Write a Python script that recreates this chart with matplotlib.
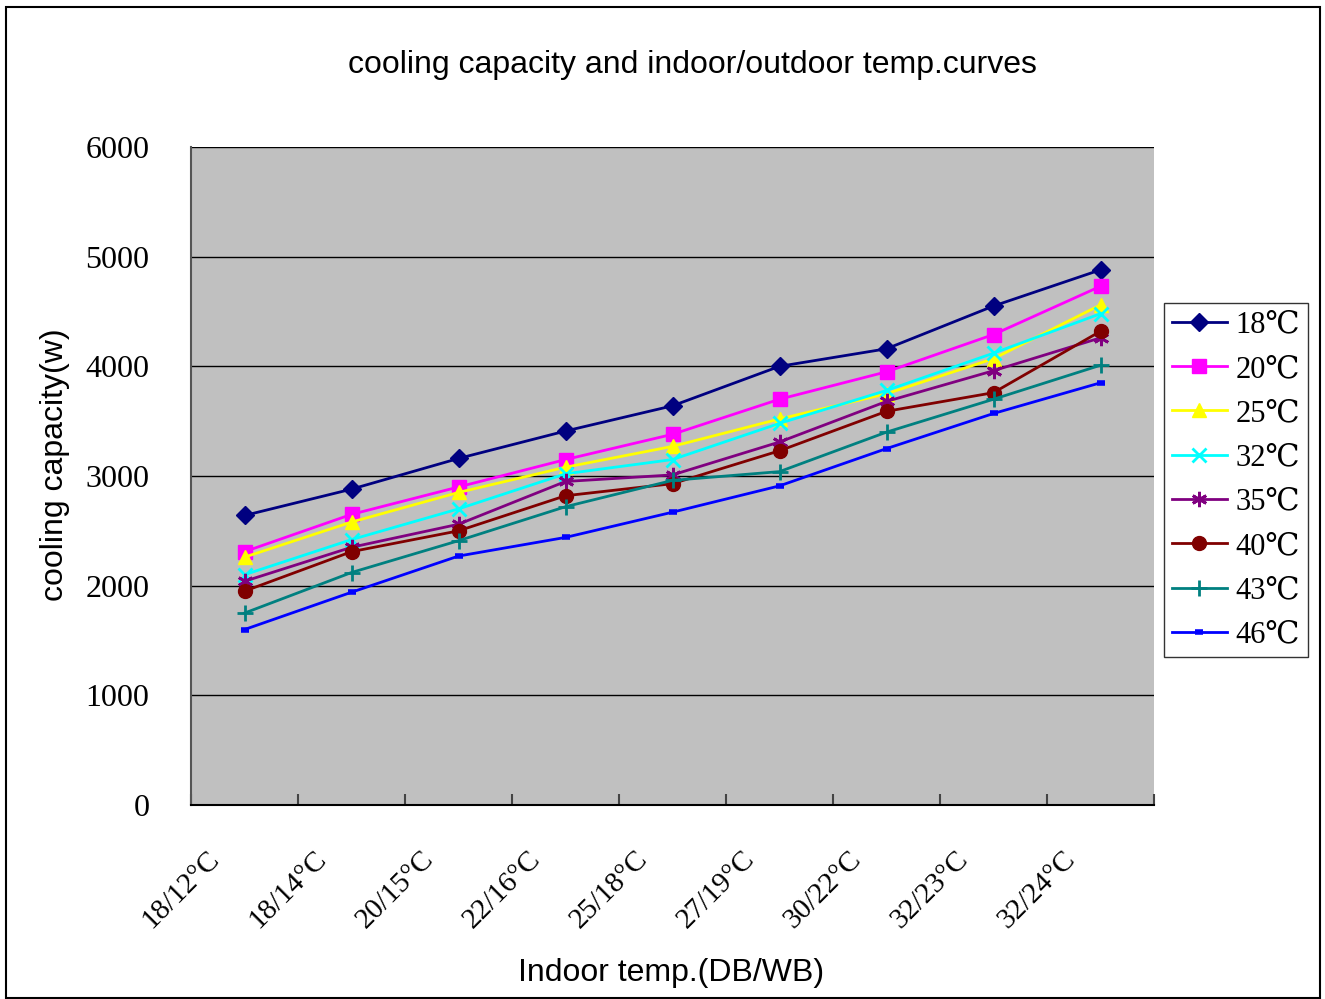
import matplotlib
matplotlib.use("Agg")
import matplotlib.pyplot as plt
import matplotlib.transforms as mtransforms
from matplotlib.patches import Rectangle
import numpy as np

# Indoor conditions (dry bulb / wet bulb)
categories = ["18/12°C", "18/14°C", "20/15°C", "22/16°C", "25/18°C",
              "27/19°C", "30/22°C", "32/23°C", "32/24°C"]

# Cooling capacity (W) for each outdoor temperature
cap_18 = [2640, 2880, 3160, 3410, 3640, 4000, 4160, 4550, 4880]
cap_20 = [2310, 2650, 2900, 3150, 3380, 3700, 3950, 4290, 4730]
cap_25 = [2260, 2580, 2850, 3080, 3270, 3520, 3750, 4070, 4560]
cap_32 = [2100, 2420, 2700, 3020, 3150, 3480, 3780, 4120, 4480]
cap_35 = [2040, 2350, 2560, 2950, 3010, 3310, 3680, 3960, 4260]
cap_40 = [1950, 2310, 2500, 2820, 2930, 3230, 3590, 3760, 4320]
cap_43 = [1750, 2120, 2410, 2720, 2960, 3040, 3400, 3700, 4010]
cap_46 = [1600, 1940, 2270, 2440, 2670, 2910, 3250, 3570, 3850]

series_labels = ["18℃", "20℃", "25℃", "32℃", "35℃", "40℃", "43℃", "46℃"]
y_ticks = [0, 1000, 2000, 3000, 4000, 5000, 6000]

series = [cap_18, cap_20, cap_25, cap_32, cap_35, cap_40, cap_43, cap_46]
styles = [
    dict(color="#000080", marker="D", markersize=9),
    dict(color="#FF00FF", marker="s", markersize=10),
    dict(color="#FFFF00", marker="^", markersize=10),
    dict(color="#00FFFF", marker="x", markersize=10, markeredgewidth=2),
    dict(color="#800080", marker=(6, 2, 0), markersize=11, markeredgewidth=2),
    dict(color="#800000", marker="o", markersize=10),
    dict(color="#008080", marker="+", markersize=12, markeredgewidth=2),
    dict(color="#0000FF", marker="_", markersize=6, markeredgewidth=4),
]

serif = ["Liberation Serif", "DejaVu Serif", "Noto Sans CJK SC"]
sans = ["Liberation Sans", "DejaVu Sans"]

fig = plt.figure(figsize=(13.25, 9.99), dpi=100)
fig.patch.set_facecolor("white")

# Outer chart border
fig.add_artist(Rectangle((6 / 1325, 1 - 998 / 999), (1320 - 6) / 1325, (998 - 7) / 999,
                         transform=fig.transFigure, fill=False,
                         edgecolor="black", linewidth=1.5))

ax = fig.add_axes([191 / 1325, 1 - 805 / 999, (1154 - 191) / 1325, (805 - 147) / 999])
ax.set_facecolor("#C0C0C0")

x = np.arange(len(categories))
for vals, lab, st in zip(series, series_labels, styles):
    ax.plot(x, vals, label=lab, linewidth=2, color=st["color"],
            marker=st["marker"], markersize=st["markersize"],
            markeredgewidth=st.get("markeredgewidth", 1),
            markerfacecolor=st["color"], markeredgecolor=st["color"])

ax.set_xlim(-0.5, len(categories) - 0.5)
ax.set_ylim(0, 6000)
ax.set_yticks(y_ticks)
ax.set_yticklabels([str(v) for v in y_ticks], family=serif, fontsize=23)
ax.yaxis.grid(True, color="black", linewidth=1)
ax.set_axisbelow(True)
ax.tick_params(axis="y", length=0, pad=30)

# Category boundary ticks
ax.set_xticks(np.arange(-0.5, len(categories), 1.0), minor=False)
ax.set_xticklabels([])
ax.tick_params(axis="x", which="major", direction="in", length=8, width=1.5,
               color="#444444")
ax.set_xticks(x, minor=True)
ax.set_xticklabels(categories, minor=True, family=serif, fontsize=21,
                   rotation=45, ha="right", va="center", rotation_mode="anchor")
ax.tick_params(axis="x", which="minor", length=0, pad=0)
offset = mtransforms.ScaledTranslation(-29 / 100, -50 / 100, fig.dpi_scale_trans)
for lbl in ax.get_xticklabels(minor=True):
    lbl.set_transform(lbl.get_transform() + offset)

for side in ["top", "right"]:
    ax.spines[side].set_visible(False)
ax.spines["left"].set_color("#555555")
ax.spines["left"].set_linewidth(1.5)
ax.spines["bottom"].set_color("black")
ax.spines["bottom"].set_linewidth(1.5)

fig.text(692 / 1325, 1 - 65 / 999, "cooling capacity and indoor/outdoor temp.curves",
         ha="center", va="center", family=sans, fontsize=23)
fig.text(55 / 1325, 1 - 465 / 999, "cooling capacity(w)", rotation=90,
         ha="center", va="center", family=sans, fontsize=23)
fig.text(671 / 1325, 1 - 973 / 999, "Indoor temp.(DB/WB)",
         ha="center", va="center", family=sans, fontsize=23)

leg = fig.legend(loc="upper left", bbox_to_anchor=(1164 / 1325, 1 - 303 / 999),
                 prop={"family": serif, "size": 22}, frameon=True, fancybox=False,
                 edgecolor="black", handlelength=1.8, labelspacing=0.5,
                 borderpad=0.25, handletextpad=0.3, borderaxespad=0)
leg.get_frame().set_linewidth(1)

fig.savefig("out.png", dpi=100)
